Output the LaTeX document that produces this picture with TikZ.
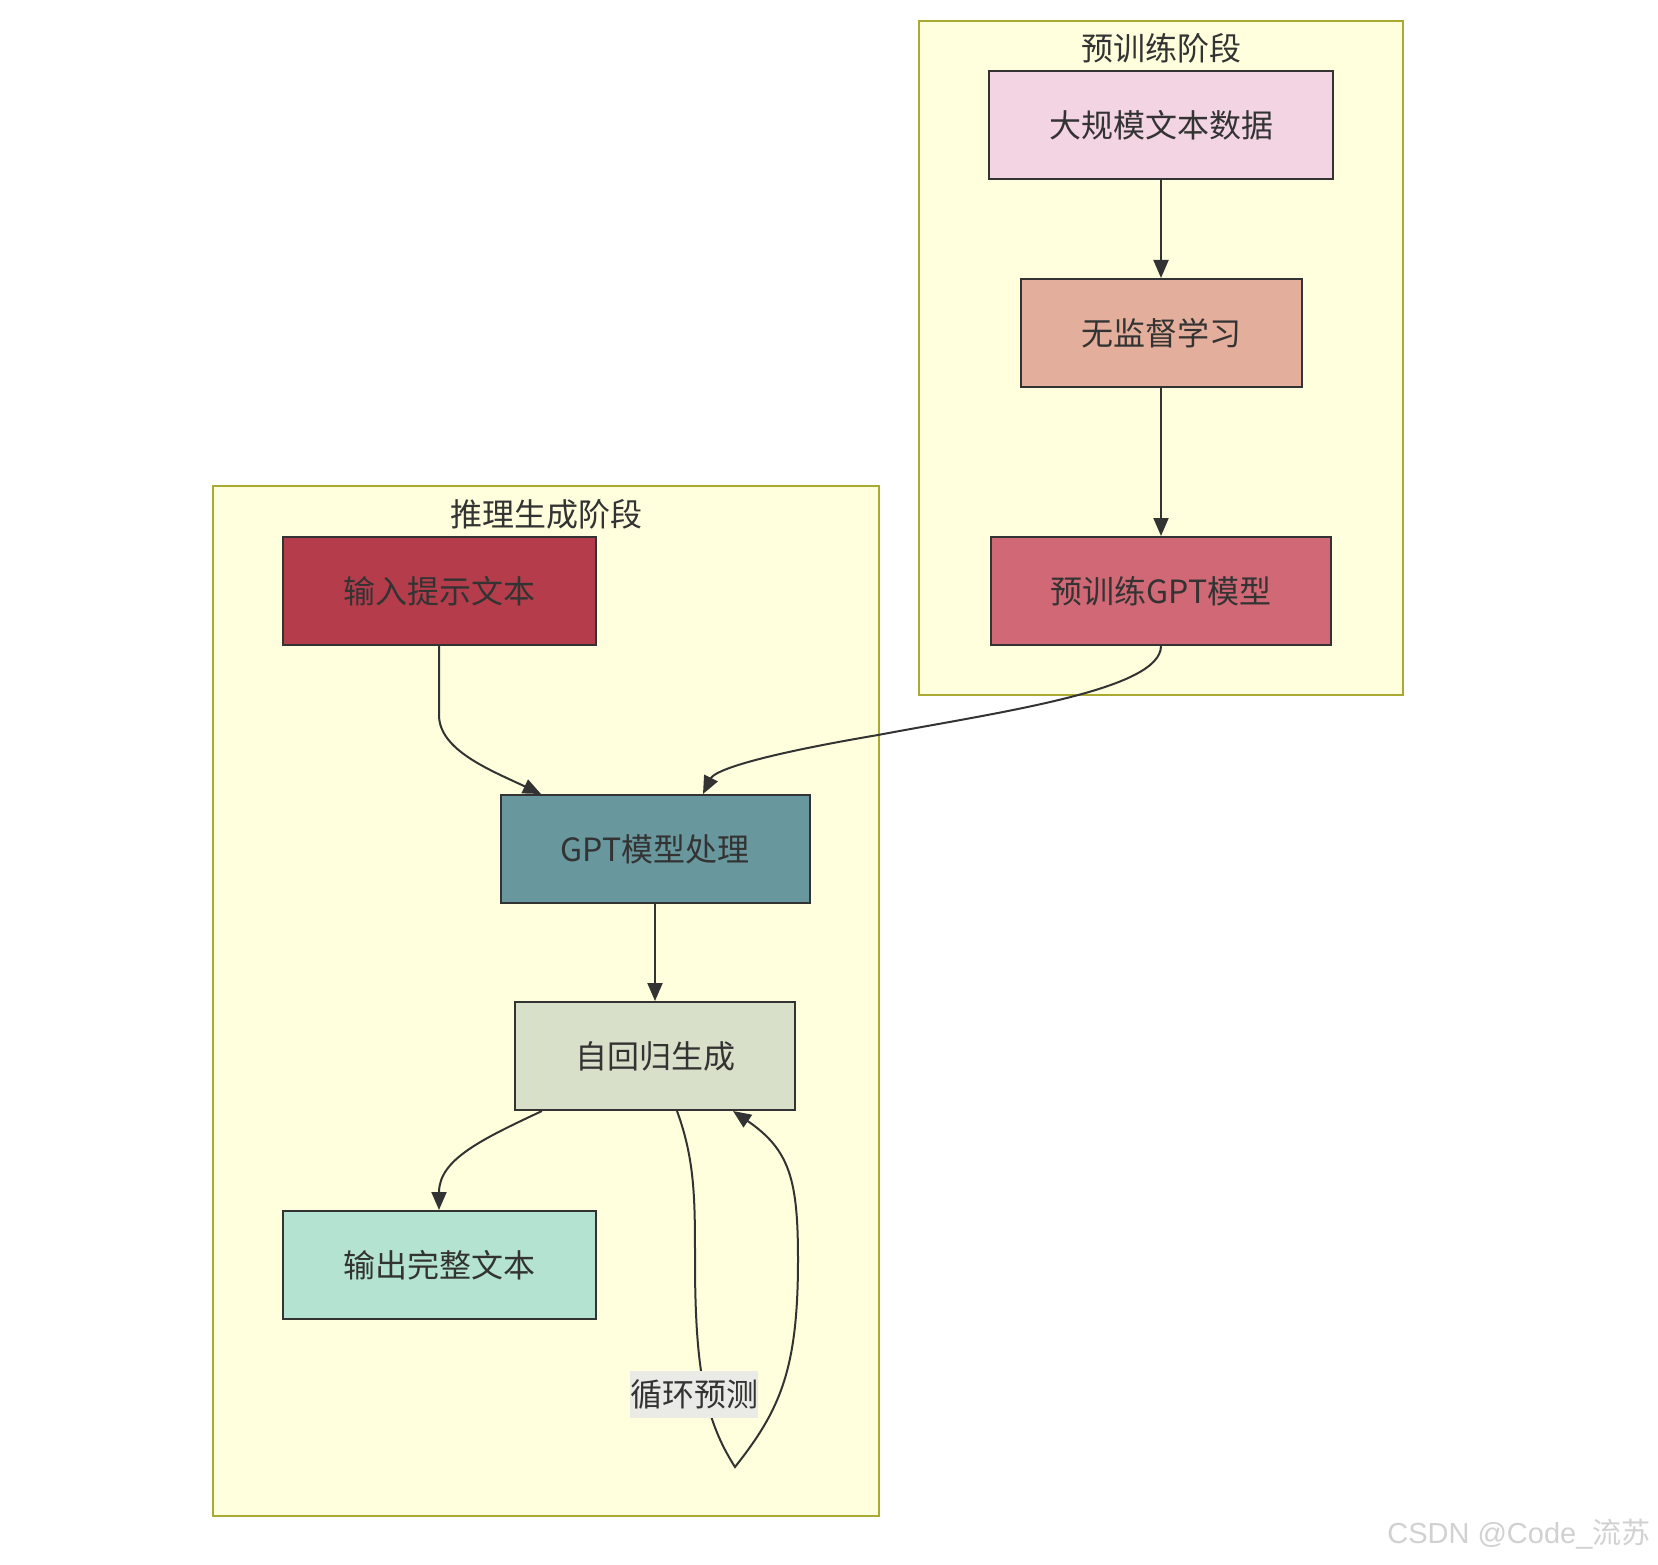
\documentclass[tikz,border=0pt]{standalone}
\usepackage{fontspec}
\setmainfont{Noto Sans CJK SC}
\newfontfamily\marksans{Liberation Sans}
\usetikzlibrary{arrows.meta}

\definecolor{clfill}{HTML}{FFFFDE}
\definecolor{clline}{HTML}{AAAA33}
\definecolor{ink}{HTML}{333333}
\definecolor{cdata}{HTML}{F2D4E2}
\definecolor{cunsup}{HTML}{E3AE9B}
\definecolor{cpregpt}{HTML}{D16876}
\definecolor{cprompt}{HTML}{B53D4B}
\definecolor{cproc}{HTML}{68979D}
\definecolor{cauto}{HTML}{D8E0C9}
\definecolor{cout}{HTML}{B4E4D1}
\definecolor{clabel}{HTML}{EAEAE6}

\begin{document}
\begin{tikzpicture}[x=1pt,y=-1pt,
    font=\fontsize{32}{36}\selectfont,
    cluster/.style={draw=clline,fill=clfill,line width=2pt,inner sep=0pt},
    title/.style={text=ink,inner sep=0pt},
    box/.style={draw=ink,line width=2pt,text=ink,minimum height=108pt,inner sep=0pt},
    flow/.style={draw=ink,line width=2pt,-{Triangle[length=18pt,width=15pt]}}]
            \useasboundingbox (0,0) rectangle (1658,1565);

            % subgraphs
            \node[cluster,minimum width=484pt,minimum height=674pt] (pretrain) at (1161,358) {};
            \node[cluster,minimum width=666pt,minimum height=1030pt] (infer) at (546,1001) {};
            \node[title] (pretraintitle) at (1161,48) {预训练阶段};
            \node[title] (infertitle) at (546,514) {推理生成阶段};

            % pretraining
            \node[box,fill=cdata,minimum width=344pt] (data) at (1161,125) {大规模文本数据};
            \node[box,fill=cunsup,minimum width=281pt] (unsup) at (1161,333) {无监督学习};
            \node[box,fill=cpregpt,minimum width=340pt] (pregpt) at (1161,591) {预训练GPT模型};

            % inference
            \node[box,fill=cprompt,minimum width=313pt] (prompt) at (439,591) {输入提示文本};
            \node[box,fill=cproc,minimum width=309pt] (proc) at (655,849) {GPT模型处理};
            \node[box,fill=cauto,minimum width=280pt] (auto) at (655,1056) {自回归生成};
            \node[box,fill=cout,minimum width=313pt] (out) at (439,1265) {输出完整文本};

            \draw[flow] (data) -- (unsup);
            \draw[flow] (unsup) -- (pregpt);
            \draw[flow] (pregpt.south) .. controls (1161,690) and (1000,712) .. (878,735)
                .. controls (760,755) and (715,770) .. ([xshift=48pt]proc.north);
            \draw[flow] (prompt.south) -- (439,715) .. controls (439,750) and (490,770) .. ([xshift=-114pt]proc.north);
            \draw[flow] (proc) -- (auto);
            \draw[flow] ([xshift=-113pt]auto.south) .. controls (480,1140) and (439,1160) .. (out.north);

            % loop
            \draw[flow] ([xshift=22pt]auto.south) .. controls (695,1160) and (695,1200) .. (695,1260)
                .. controls (695,1370) and (705,1420) .. (735,1467)
                .. controls (780,1410) and (798,1370) .. (798,1260)
                .. controls (798,1180) and (790,1150) .. ([xshift=78pt]auto.south);
            \node[fill=clabel,text=ink,minimum width=127pt,minimum height=47pt,inner sep=0pt] (looplabel) at (694,1394) {循环预测};

            \node[text=black!18,font=\fontsize{29}{32}\selectfont,anchor=east] (mark) at (1654,1534) {\marksans CSDN @Code\_\normalfont 流苏};
        \end{tikzpicture}
\end{document}
